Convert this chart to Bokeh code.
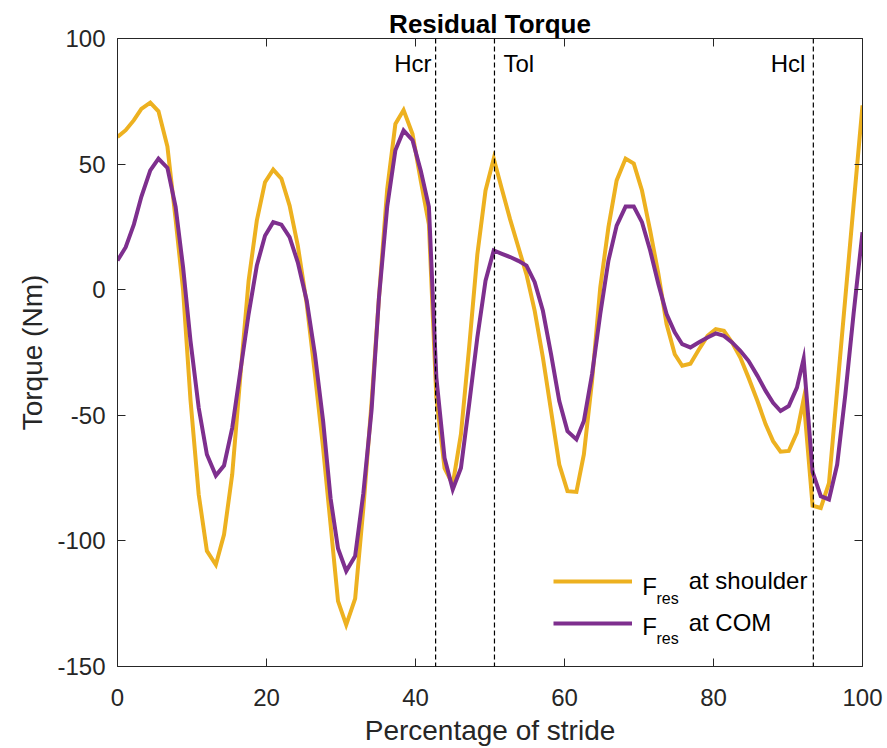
from bokeh.plotting import figure
from bokeh.models import Range1d, LinearAxis, Span, Label, Legend, LegendItem, FixedTicker
from bokeh.embed import file_html
from bokeh.resources import INLINE

# ---- data ----
stride = [0, 1.1, 2.2, 3.2, 4.4, 5.5, 6.7, 7.8, 8.8, 9.8,
          10.9, 12.0, 13.2, 14.3, 15.4, 16.5, 17.6, 18.7, 19.8, 20.9,
          22.0, 23.1, 24.2, 25.4, 26.5, 27.6, 28.6, 29.6, 30.7, 31.9,
          33.0, 34.1, 35.1, 36.2, 37.3, 38.4, 39.6, 40.7, 41.8, 42.8,
          43.9, 45.0, 46.1, 47.2, 48.3, 49.4, 50.5, 51.6, 52.7, 53.8,
          54.9, 56.0, 57.1, 58.2, 59.3, 60.4, 61.6, 62.6, 63.7, 64.8,
          65.9, 67.0, 68.2, 69.3, 70.4, 71.5, 72.6, 73.7, 74.8, 75.8,
          76.9, 78.0, 79.2, 80.3, 81.4, 82.5, 83.6, 84.7, 85.9, 87.0,
          88.0, 89.0, 90.1, 91.2, 92.1, 93.3, 94.4, 95.5, 96.6, 97.7,
          98.8, 100]
shoulder = [60.8, 63.5, 67.5, 72, 74.5, 71, 57, 28, 0, -44,
            -81.5, -104, -109.5, -97.5, -73.5, -34, 3.6, 27.5, 42.8, 47.8,
            44.2, 33.5, 17.6, -5.7, -33.6, -63, -93.5, -124, -133.4, -123,
            -87, -45, -3, 40, 66, 71.5, 62, 43.5, 26, -43,
            -71, -77.5, -57.5, -23, 14, 39.5, 52.2, 40, 28, 17,
            6, -8.4, -27, -48.3, -69.6, -80.2, -80.5, -65.6, -36.3, 0.9,
            24.9, 43.5, 52.2, 50.2, 39.5, 23.5, 6.3, -13.7, -25.7, -30.3,
            -29.5, -24, -18.4, -15.7, -16.4, -21, -27, -35, -44.3, -53.6,
            -60.3, -64.5, -64.2, -56.9, -43.6, -86, -86.9, -77, -40, -3,
            33.6, 73.4]
com = [11.6, 16.9, 26, 37, 47.5, 52.2, 48.5, 33, 9, -20.4,
       -47, -65.6, -74, -70, -55, -32.3, -9.7, 9.6, 21.5, 26.9,
       25.9, 20.9, 10.9, -4.4, -25.7, -52.3, -83, -103, -112, -106,
       -81, -48, -3, 33, 55.5, 63.4, 59.5, 47.5, 33, -35,
       -67, -79.5, -71, -45.6, -19, 3.6, 15.6, 14.3, 13, 11.5,
       9.6, 3, -8.4, -25.7, -44.3, -56.3, -59.6, -52.3, -33.6, -9.7,
       11.6, 25.5, 33.1, 33.1, 26.9, 15.6, 2.3, -9.7, -17, -21.7,
       -23, -21, -19, -17.4, -18.4, -21, -24.3, -28.3, -34.3, -40.3,
       -45, -48.3, -46.3, -39, -27.5, -72.5, -82.2, -83.5, -69.6, -41.6,
       -9.7, 22.9]
event_x = [42.7, 50.6, 93.4]
event_names = ["Hcr", "Tol", "Hcl"]
x_ticks = [0, 20, 40, 60, 80, 100]
y_ticks = [-150, -100, -50, 0, 50, 100]
series_names = ["at shoulder", "at COM"]

FONT = "Liberation Sans"
INK = "#262626"
ORANGE = "#EDB120"
PURPLE = "#7E2F8E"

p = figure(width=887, height=748, x_range=Range1d(0, 100), y_range=Range1d(-150, 100),
           output_backend="svg", toolbar_location=None,
           min_border_left=117, min_border_right=25, min_border_top=38, min_border_bottom=82)
p.xgrid.visible = False
p.ygrid.visible = False
p.outline_line_color = None

p.title.text = "Residual Torque"
p.title.align = "center"
p.title.text_font = FONT
p.title.text_font_size = "26px"
p.title.text_font_style = "bold"
p.title.text_color = "black"
p.title.standoff = 0

def style_axis(ax, ticks, show_labels):
    ax.ticker = FixedTicker(ticks=ticks)
    ax.axis_line_color = INK
    ax.axis_line_width = 1
    ax.major_tick_line_color = INK
    ax.major_tick_in = 8
    ax.major_tick_out = 0
    ax.minor_tick_line_color = None
    if show_labels:
        ax.major_label_text_font = FONT
        ax.major_label_text_font_size = "24px"
        ax.major_label_text_color = INK
        ax.major_label_overrides = {t: str(t) for t in ticks}
    else:
        ax.major_label_text_font_size = "1px"
        ax.major_label_text_color = None
        ax.major_label_standoff = 0

xb = p.xaxis[0]
yl = p.yaxis[0]
style_axis(xb, x_ticks, True)
style_axis(yl, y_ticks, True)
xb.major_label_standoff = 22
yl.major_label_standoff = 12
xb.axis_label = "Percentage of stride"
yl.axis_label = "Torque (Nm)"
for ax in (xb, yl):
    ax.axis_label_text_font = FONT
    ax.axis_label_text_font_size = "28px"
    ax.axis_label_text_font_style = "normal"
    ax.axis_label_text_color = INK
xb.axis_label_standoff = 6
yl.axis_label_standoff = 6

xt = LinearAxis()
style_axis(xt, x_ticks, False)
p.add_layout(xt, "above")
yr = LinearAxis()
style_axis(yr, y_ticks, False)
p.add_layout(yr, "right")

r1 = p.line(stride, shoulder, color=ORANGE, line_width=4, line_join="miter")
r2 = p.line(stride, com, color=PURPLE, line_width=4, line_join="miter")

for ex, name in zip(event_x, event_names):
    p.add_layout(Span(location=ex, dimension="height", line_color="black",
                      line_width=1.2, line_dash="5 3"))
    right = name != "Tol"
    p.add_layout(Label(x=ex, y=100, x_offset=(-4 if name == "Hcr" else (-8 if right else 9)),
                       y_offset=-25, text=name, text_align="right" if right else "left",
                       text_baseline="alphabetic", text_font=FONT, text_font_size="24px",
                       text_color="black"))

legend = Legend(items=[LegendItem(label=series_names[0], renderers=[r1]),
                       LegendItem(label=series_names[1], renderers=[r2])],
                location=(435.7, 29.0), glyph_width=79, glyph_height=26, label_height=26,
                spacing=14, padding=0, margin=0, border_line_alpha=0,
                background_fill_alpha=0, label_standoff=57,
                label_text_font=FONT, label_text_font_size="24px", label_text_color="black")
p.add_layout(legend)

for yb, ys in ((-118.1, -123.1), (-134.1, -139.0)):
    p.add_layout(Label(x=70.43, y=yb, text="F", text_align="left", text_baseline="alphabetic",
                       text_font=FONT, text_font_size="24px", text_color="black"))
    p.add_layout(Label(x=72.35, y=ys, text="res", text_align="left", text_baseline="alphabetic",
                       text_font=FONT, text_font_size="16px", text_color="black"))

open("out.html", "w").write(file_html(p, INLINE))
